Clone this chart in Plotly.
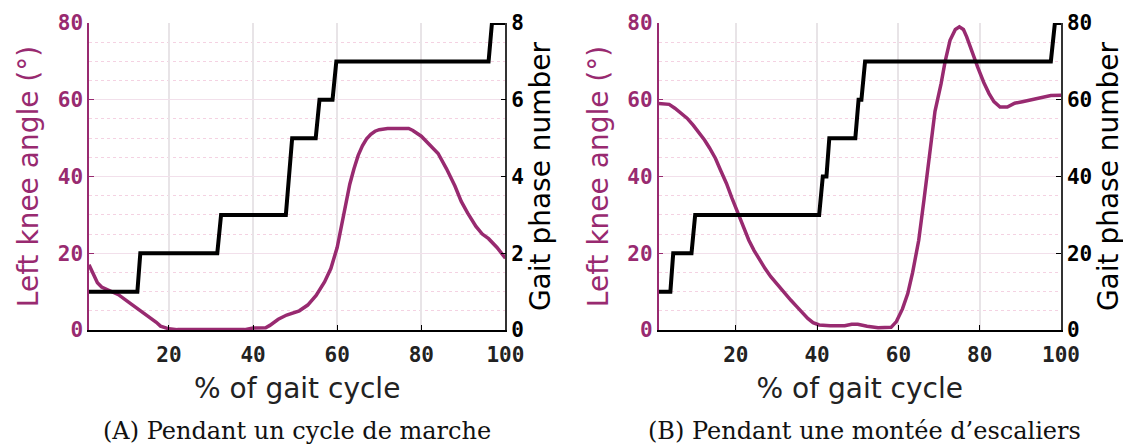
import plotly.graph_objects as go

# gait cycle % and left knee angle, walking
walk_x = [1, 2, 3, 4, 6, 8, 10, 12, 14, 16, 17, 18, 20, 22, 30, 38, 40, 43, 44, 46, 48, 50, 51,
          53, 55, 57, 58.5, 60, 61, 62, 63, 64, 65, 66, 67, 68, 69, 70, 72, 77, 78, 80, 82, 84,
          86, 88, 89.5, 91, 93, 94.5, 96, 98, 100]
walk_knee = [17, 14.5, 12.3, 11.2, 10.2, 9.2, 7.6, 6.0, 4.5, 3.0, 2.0, 1.0, 0.3, 0.1, 0.1, 0.1,
             0.5, 0.6, 1.2, 2.8, 3.9, 4.7, 5.0, 6.5, 9.0, 12.5, 16, 21.5, 27, 33, 38, 42, 45.5,
             48, 49.8, 51, 51.8, 52.2, 52.5, 52.5, 52.0, 50.5, 48.3, 46, 42, 37.5, 33.5, 30.5,
             27, 25, 23.8, 21.5, 18.7]

# gait phase, walking
walk_phase_x = [1, 12.5, 13.2, 31.5, 32.4, 47.8, 49.3, 54.9, 55.8, 58.9, 59.8, 96.0, 96.8, 100]
walk_phase = [1, 1, 2, 2, 3, 3, 5, 5, 6, 6, 7, 7, 8, 8]

# stairs ascent
stairs_x = [1, 2.5, 3.6, 5, 6.8, 8, 9.5, 11, 12.3, 13.5, 15, 16.3, 17.7, 19, 20.5, 22, 23.2, 24.5,
            25.9, 27.2, 28.6, 30.5, 32.3, 33.5, 35, 36.3, 37.7, 39, 40.5, 43.2, 46.8, 48.5, 50,
            52.3, 55, 58.2, 59.5, 61, 62.3, 63.5, 65, 66.3, 67.7, 69, 70.5, 71.5, 72.7, 74, 75,
            76, 76.8, 78, 79.5, 81, 82.3, 83.5, 85, 86.8, 88, 88.6, 90.5, 92.3, 94, 95.9, 97.5, 100]
stairs_knee = [59, 59, 58.8, 57.8, 56.4, 55.2, 53.4, 51.4, 49.5, 47.5, 44.7, 41.5, 38.2, 34.5,
               30.4, 26.3, 23.4, 20.7, 18.2, 16, 13.9, 11.4, 9.1, 7.8, 6.1, 4.5, 3, 1.9, 1.3,
               1.1, 1.1, 1.5, 1.5, 1.0, 0.6, 0.7, 2.2, 5.5, 9.5, 15, 23.4, 34, 46.9, 57, 64.2,
               70, 75.5, 78.3, 79, 78.3, 76.4, 72.8, 68.5, 64.5, 61.6, 59.5, 58.1, 58.1, 58.7,
               59.1, 59.5, 59.9, 60.3, 60.7, 61.1, 61.2]

stairs_phase_x = [1, 3.9, 4.6, 9.1, 10, 40.5, 41.4, 42.3, 43, 49.4, 50.2, 50.9, 51.8, 97.5, 98.5, 100]
stairs_phase = [10, 10, 20, 20, 30, 30, 40, 40, 50, 50, 60, 60, 70, 70, 80, 80]

x_ticks = [20, 40, 60, 80, 100]
captions = ["(A) Pendant un cycle de marche", "(B) Pendant une montée d\u2019escaliers"]

PURPLE = "#982a70"
tickfont = dict(family="DejaVu Sans Mono", size=21, weight="bold")
titlefont = dict(family="DejaVu Sans", size=28)

fig = go.Figure()
fig.add_trace(go.Scatter(x=walk_x, y=walk_knee, mode="lines", line=dict(color=PURPLE, width=3.5),
                         xaxis="x", yaxis="y"))
fig.add_trace(go.Scatter(x=walk_phase_x, y=walk_phase, mode="lines", line=dict(color="black", width=4),
                         xaxis="x", yaxis="y2"))
fig.add_trace(go.Scatter(x=stairs_x, y=stairs_knee, mode="lines", line=dict(color=PURPLE, width=3.5),
                         xaxis="x2", yaxis="y3"))
fig.add_trace(go.Scatter(x=stairs_phase_x, y=stairs_phase, mode="lines", line=dict(color="black", width=4),
                         xaxis="x2", yaxis="y4"))


def xax(domain, anchor):
    return dict(domain=domain, anchor=anchor, range=[1, 100], tickvals=x_ticks,
                ticks="inside", ticklen=5, tickcolor="black", tickfont=dict(tickfont, color="#222"),
                ticklabelstandoff=5,
                showline=True, linecolor="black", linewidth=1.5, showgrid=True, gridcolor="#e8e4e7",
                gridwidth=1.5, zeroline=False,
                title=dict(text="% of gait cycle", font=dict(titlefont, color="#222"), standoff=12))


def yleft(anchor):
    return dict(anchor=anchor, range=[0, 80], tickvals=[0, 20, 40, 60, 80], ticks="inside", ticklen=5,
                tickcolor=PURPLE, tickfont=dict(tickfont, color=PURPLE), showline=True, linecolor=PURPLE,
                linewidth=1.5, showgrid=True, gridcolor="#f2e0eb", gridwidth=1.2, zeroline=False,
                minor=dict(tick0=0, dtick=5, showgrid=True, griddash="dot", gridcolor="#f4d2e2", gridwidth=1),
                title=dict(text="Left knee angle (°)", font=dict(titlefont, color=PURPLE), standoff=11))


def yright(anchor, over, rng, dtick):
    return dict(anchor=anchor, overlaying=over, side="right", range=rng, dtick=dtick, tick0=0,
                ticks="inside", ticklen=5, tickcolor="black", tickfont=dict(tickfont, color="black"),
                showline=True, linecolor="#333", linewidth=1.5, showgrid=False, zeroline=False,
                title=dict(text="Gait phase number", font=dict(titlefont, color="black"), standoff=7))


# the page body adds an 8px margin, so the figure is 8px smaller
fig.update_layout(
    width=1123, height=438,
    template="none",
    showlegend=False,
    paper_bgcolor="white", plot_bgcolor="white",
    margin=dict(l=81, r=70, t=15, b=116),
    xaxis=xax([0, 0.4284], "y"),
    xaxis2=xax([0.586, 1], "y3"),
    yaxis=yleft("x"),
    yaxis2=yright("x", "y", [0, 8], 2),
    yaxis3=yleft("x2"),
    yaxis4=yright("x2", "y3", [0, 80], 20),
)

for cx, txt in zip([0.2137, 0.7977], captions):
    fig.add_annotation(x=cx, y=-0.329, xref="paper", yref="paper", text=txt, showarrow=False,
                       xanchor="center", yanchor="middle",
                       font=dict(family="DejaVu Serif", size=24, color="#111"))

fig.write_html("out.html")
